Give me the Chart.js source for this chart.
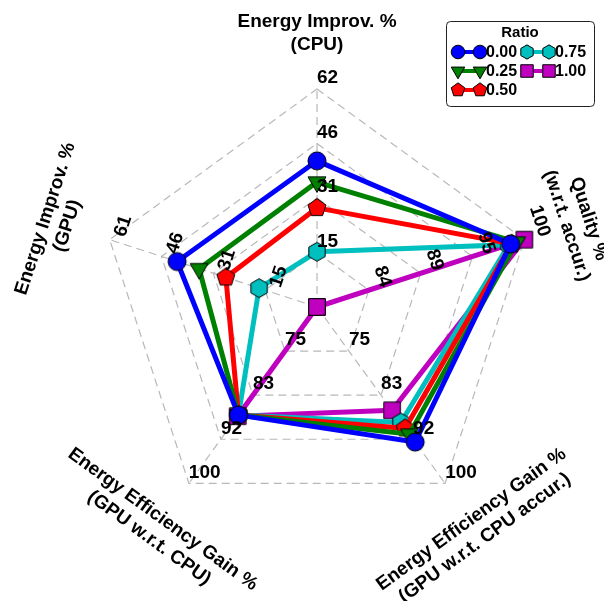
<!DOCTYPE html>
<html>
<head>
<meta charset="utf-8">
<script src="https://cdn.jsdelivr.net/npm/chart.js@4.4.0/dist/chart.umd.min.js"></script>
<style>
  html, body { margin: 0; padding: 0; background: #fff; }
  canvas { display: block; }
</style>
</head>
<body>
<canvas id="radar" width="604" height="601"></canvas>
<script>
// axes, clockwise from the top
const axisTitles = [
    ['Energy Improv. %', '(CPU)'],
    ['Quality %', '(w.r.t. accur.)'],
    ['Energy Efficiency Gain %', '(GPU w.r.t. CPU accur.)'],
    ['Energy Efficiency Gain %', '(GPU w.r.t. CPU)'],
    ['Energy Improv. %', '(GPU)']
];
const axisMin = [0, 78.67, 66.67, 66.67, 0];
const axisMax = [61.6, 100, 100, 100, 61.2];
const tickLabels = [
    ['15', '31', '46', '62'],
    ['84', '89', '95', '100'],
    ['75', '83', '92', '100'],
    ['75', '83', '92', '100'],
    ['15', '31', '46', '61']
];

// series (one per ratio)
const ratios = ['0.00', '0.25', '0.50', '0.75', '1.00'];
const ratio000 = [41.3, 98.6, 92.2, 87.1, 41.3];
const ratio025 = [35.3, 99.2, 90.7, 87.1, 34.8];
const ratio050 = [28.0, 98.7, 89.6, 87.1, 26.9];
const ratio075 = [15.6, 98.4, 88.5, 87.1, 17.1];
const ratio100 = [0.0, 100.0, 86.2, 87.3, 0.0];

const seriesValues = [ratio000, ratio025, ratio050, ratio075, ratio100];
const colors = ['#0000ff', '#008000', '#ff0000', '#00bfbf', '#bf00bf'];
const shapes = ['circle', 'triDown', 'pentagon', 'hexagon', 'square'];

const FONT = 'bold 19px "Liberation Sans", Arial, sans-serif';

function markerPath(ctx, shape, x, y, r) {
    ctx.beginPath();
    if (shape === 'circle') {
        ctx.arc(x, y, r, 0, Math.PI * 2);
    } else if (shape === 'square') {
        const s = r * 0.92;
        ctx.rect(x - s, y - s, 2 * s, 2 * s);
    } else {
        let n = 3, start = Math.PI / 2, rr = r * 1.15;
        if (shape === 'pentagon') { n = 5; start = -Math.PI / 2; rr = r * 1.05; }
        if (shape === 'hexagon') { n = 6; start = -Math.PI / 2; rr = r * 1.05; }
        for (let k = 0; k < n; k++) {
            const a = start + k * 2 * Math.PI / n;
            const px = x + rr * Math.cos(a), py = y + rr * Math.sin(a);
            if (k === 0) ctx.moveTo(px, py); else ctx.lineTo(px, py);
        }
        ctx.closePath();
    }
}

function drawMarker(ctx, shape, x, y, r, color) {
    markerPath(ctx, shape, x, y, r);
    ctx.fillStyle = color;
    ctx.fill();
    ctx.lineWidth = 1;
    ctx.strokeStyle = '#000';
    ctx.stroke();
}

function makeMarker(shape, color, r) {
    const c = document.createElement('canvas');
    c.width = c.height = Math.ceil(r * 2.4) + 4;
    drawMarker(c.getContext('2d'), shape, c.width / 2, c.height / 2, r, color);
    return c;
}

function norm(v, i) {
    return (v - axisMin[i]) / (axisMax[i] - axisMin[i]);
}

function rotatedBox(w, h, rad) {
    return {
        w: w * Math.abs(Math.cos(rad)) + h * Math.abs(Math.sin(rad)),
        h: w * Math.abs(Math.sin(rad)) + h * Math.abs(Math.cos(rad))
    };
}

// rotation of text for each axis, degrees (canvas, clockwise)
const titleRot = [0, 72, -36, 36, -72];
const tickRot = [0, 72, 0, 0, -72];

const overlay = {
    id: 'overlay',
    afterDatasetsDraw(chart) {
        const ctx = chart.ctx;
        const scale = chart.scales.r;
        ctx.save();
        ctx.fillStyle = '#000';
        ctx.font = FONT;
        ctx.textAlign = 'center';
        ctx.textBaseline = 'middle';

        // tick labels: rotated box anchored left-bottom at each ring vertex
        tickLabels.forEach((labels, i) => {
            const rad = tickRot[i] * Math.PI / 180;
            labels.forEach((txt, k) => {
                const p = scale.getPointPositionForValue(i, (k + 1) / labels.length);
                const w = ctx.measureText(txt).width;
                const b = rotatedBox(w, 22, rad);
                ctx.save();
                ctx.translate(p.x + b.w / 2, p.y - b.h / 2);
                ctx.rotate(rad);
                ctx.fillText(txt, 0, 0);
                ctx.restore();
            });
        });

        // axis titles
        axisTitles.forEach((lines, i) => {
            const p = scale.getPointPosition(i, 274);
            ctx.save();
            ctx.translate(p.x, p.y);
            ctx.rotate(titleRot[i] * Math.PI / 180);
            ctx.fillText(lines[0], 0, -11.5);
            ctx.fillText(lines[1], 0, 11.5);
            ctx.restore();
        });

        // legend
        ctx.lineWidth = 1;
        ctx.strokeStyle = '#222';
        ctx.beginPath();
        ctx.roundRect(446.5, 21.5, 148, 85, 4);
        ctx.fillStyle = '#fff';
        ctx.fill();
        ctx.stroke();
        ctx.fillStyle = '#000';
        ctx.font = 'bold 15px "Liberation Sans", Arial, sans-serif';
        ctx.fillText('Ratio', 520, 33);
        ctx.font = 'bold 16px "Liberation Sans", Arial, sans-serif';
        ctx.textAlign = 'left';
        ratios.forEach((name, i) => {
            const col = i < 3 ? 0 : 1;
            const row = i < 3 ? i : i - 3;
            const x1 = col === 0 ? 458 : 527;
            const x2 = x1 + 22;
            const y = 52 + row * 19;
            ctx.strokeStyle = colors[i];
            ctx.lineWidth = 4;
            ctx.beginPath();
            ctx.moveTo(x1, y);
            ctx.lineTo(x2, y);
            ctx.stroke();
            drawMarker(ctx, shapes[i], x1, y, 6.8, colors[i]);
            drawMarker(ctx, shapes[i], x2, y, 6.8, colors[i]);
            ctx.fillStyle = '#000';
            ctx.fillText(name, x2 + 6, y + 1);
        });
        ctx.restore();
    }
};

new Chart(document.getElementById('radar').getContext('2d'), {
    type: 'radar',
    data: {
        labels: axisTitles.map(t => t.join(' ')),
        datasets: seriesValues.map((vals, i) => ({
            label: ratios[i],
            data: vals.map((v, k) => norm(v, k)),
            borderColor: colors[i],
            borderWidth: 5,
            fill: false,
            tension: 0,
            pointStyle: makeMarker(shapes[i], colors[i], 9),
            pointRadius: 9
        }))
    },
    options: {
        responsive: false,
        animation: false,
        devicePixelRatio: 1,
        layout: { padding: { left: 99, right: 69, top: 89, bottom: 76 } },
        plugins: { legend: { display: false }, tooltip: { enabled: false } },
        scales: {
            r: {
                min: 0,
                max: 1,
                ticks: { display: false, stepSize: 0.25 },
                pointLabels: { display: false },
                grid: { color: '#b8b8b8', lineWidth: 1.2 },
                border: { dash: [8, 5] },
                angleLines: { color: '#b8b8b8', lineWidth: 1.2, borderDash: [8, 5] }
            }
        }
    },
    plugins: [overlay]
});
</script>
</body>
</html>
